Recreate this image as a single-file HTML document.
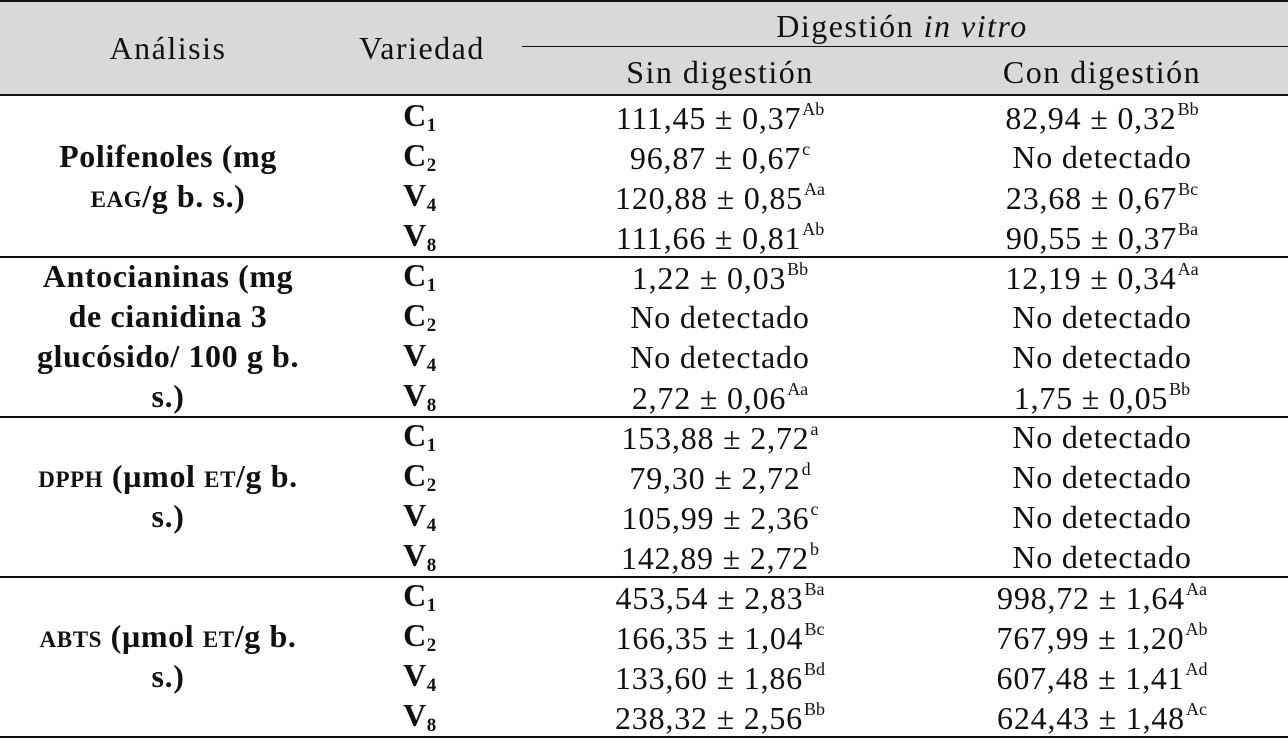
<!DOCTYPE html>
<html><head><meta charset="utf-8"><style>
body{margin:0;width:1288px;height:744px;background:#fff;position:relative;overflow:hidden;font-family:"Liberation Serif",serif;color:#111}
.t{position:absolute;white-space:nowrap;transform:translate(-50%,-50%);font-size:32px;line-height:1;letter-spacing:0.8px}
.h{letter-spacing:1.5px}
.b{font-weight:bold;letter-spacing:0.6px}
.l{position:absolute;left:0;width:1288px;height:2px;background:#111}
sup{font-size:18px;vertical-align:14px;margin-left:1px;letter-spacing:0}
sub{font-size:19px;vertical-align:-5px}
.sc{font-size:23px}
</style></head><body>
<div style="position:absolute;left:0;top:0;width:1288px;height:95px;background:#d9d9d9"></div>
<div class="l" style="top:0"></div>
<div class="l" style="top:94px"></div>
<div style="position:absolute;left:522px;top:46px;width:766px;height:1px;background:#111"></div>
<div class="l" style="top:256px"></div>
<div class="l" style="top:416px"></div>
<div class="l" style="top:576px"></div>
<div class="l" style="top:736px"></div>
<div class="t h" style="left:168px;top:48px">Análisis</div>
<div class="t h" style="left:422px;top:48px">Variedad</div>
<div class="t h" style="left:902px;top:26px">Digestión <i>in vitro</i></div>
<div class="t h" style="left:720px;top:72px">Sin digestión</div>
<div class="t h" style="left:1102px;top:72px">Con digestión</div>
<div id="body"></div>
<script>
const groups=[["Polifenoles (mg","<span class='sc'>EAG</span>/g b. s.)"],["Antocianinas (mg","de cianidina 3","glucósido/ 100 g b.","s.)"],["<span class='sc'>DPPH</span> (µmol <span class='sc'>ET</span>/g b.","s.)"],["<span class='sc'>ABTS</span> (µmol <span class='sc'>ET</span>/g b.","s.)"]];
const varieties=["C<sub>1</sub>","C<sub>2</sub>","V<sub>4</sub>","V<sub>8</sub>"];
const sinVals=[["111,45 ± 0,37","Ab"],["96,87 ± 0,67","c"],["120,88 ± 0,85","Aa"],["111,66 ± 0,81","Ab"],["1,22 ± 0,03","Bb"],["No detectado",""],["No detectado",""],["2,72 ± 0,06","Aa"],["153,88 ± 2,72","a"],["79,30 ± 2,72","d"],["105,99 ± 2,36","c"],["142,89 ± 2,72","b"],["453,54 ± 2,83","Ba"],["166,35 ± 1,04","Bc"],["133,60 ± 1,86","Bd"],["238,32 ± 2,56","Bb"]];
const conVals=[["82,94 ± 0,32","Bb"],["No detectado",""],["23,68 ± 0,67","Bc"],["90,55 ± 0,37","Ba"],["12,19 ± 0,34","Aa"],["No detectado",""],["No detectado",""],["1,75 ± 0,05","Bb"],["No detectado",""],["No detectado",""],["No detectado",""],["No detectado",""],["998,72 ± 1,64","Aa"],["767,99 ± 1,20","Ab"],["607,48 ± 1,41","Ad"],["624,43 ± 1,48","Ac"]];
const host=document.getElementById('body');
function add(html,x,y,cls,name){const d=document.createElement('div');d.className='t '+cls;d.style.left=x+'px';d.style.top=y+'px';d.innerHTML=html;


host.appendChild(d);}
groups.forEach((g,gi)=>{const top=96+gi*160;const n=g.length;const start=top+80-(n*40)/2+20;
g.forEach((line,li)=>add(line,168,start+li*40,'b','analysis-label'));});
for(let i=0;i<16;i++){const y=117+i*40;
add(varieties[i%4],420,y,'b','variety-label');
const s=sinVals[i],c=conVals[i];
add(s[0]+(s[1]?'<sup>'+s[1]+'</sup>':''),720,y,'','sin-digestion-value');
add(c[0]+(c[1]?'<sup>'+c[1]+'</sup>':''),1102,y,'','con-digestion-value');}
</script>
</body></html>
